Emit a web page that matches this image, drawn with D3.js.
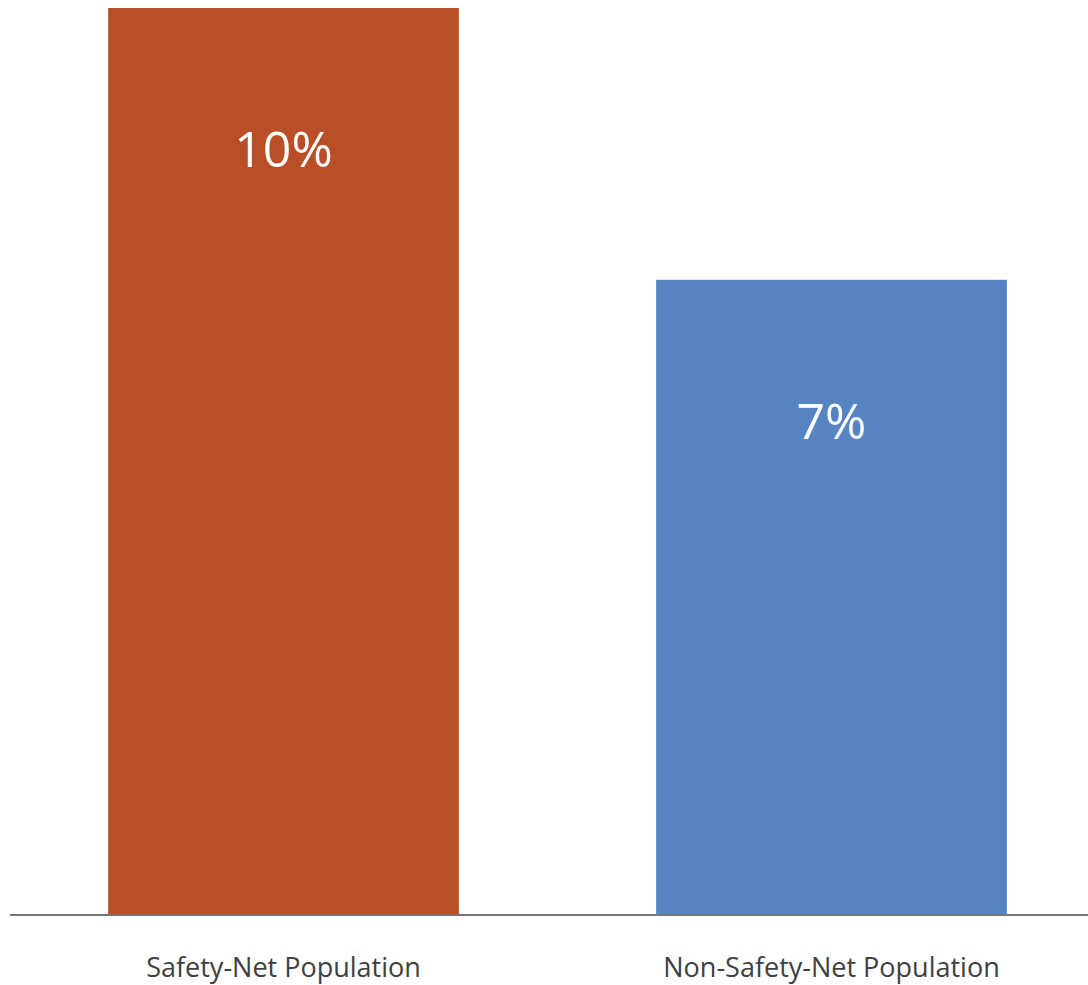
<!DOCTYPE html>
<html>
<head>
<meta charset="utf-8">
<script src="https://cdn.jsdelivr.net/npm/d3@7"></script>
<style>
  html, body { margin: 0; padding: 0; background: #ffffff; }
  svg { display: block; }
</style>
</head>
<body>
<svg id="chart" width="1088" height="985"></svg>
<script>
const categories = ["Safety-Net Population", "Non-Safety-Net Population"];
const values = [10, 7];
const valueLabels = ["10%", "7%"];
const colors = ["#B94E27", "#5683C2"];

const svg = d3.select("#chart");
const W = 1088, H = 985;
const baseY = 914;

const x = d3.scaleBand()
  .domain(categories)
  .range([9.5, 1105.5])
  .paddingInner(0.36)
  .paddingOuter(0.18);

const y = d3.scaleLinear()
  .domain([0, 10])
  .range([baseY, 8]);

const data = categories.map((c, i) => ({ c, v: values[i], label: valueLabels[i], color: colors[i] }));

svg.selectAll("rect.bar")
  .data(data)
  .enter().append("rect")
  .attr("class", "bar")
  .attr("x", d => x(d.c))
  .attr("width", x.bandwidth())
  .attr("y", d => y(d.v))
  .attr("height", d => y(0) - y(d.v))
  .attr("fill", d => d.color);

svg.selectAll("text.val")
  .data(data)
  .enter().append("text")
  .attr("class", "val")
  .attr("x", d => x(d.c) + x.bandwidth() / 2)
  .attr("y", d => y(d.v) + 159)
  .attr("text-anchor", "middle")
  .attr("fill", "#ffffff")
  .style("font-family", "'Open Sans', 'Noto Sans', sans-serif")
  .style("font-size", "50px")
  .text(d => d.label);

// baseline axis
const axis = d3.axisBottom(x).tickSize(0).tickPadding(0);
const g = svg.append("g").attr("transform", `translate(0,${baseY + 1})`).call(axis);
g.select(".domain").remove();
g.append("line")
  .attr("x1", 10).attr("x2", W)
  .attr("y1", 0).attr("y2", 0)
  .attr("stroke", "#767676")
  .attr("stroke-width", 2.2);
g.selectAll(".tick text")
  .attr("dy", 0)
  .attr("y", 62)
  .attr("fill", "#404040")
  .style("font-family", "'Open Sans', 'Noto Sans', sans-serif")
  .style("font-size", "27px");
</script>
</body>
</html>
